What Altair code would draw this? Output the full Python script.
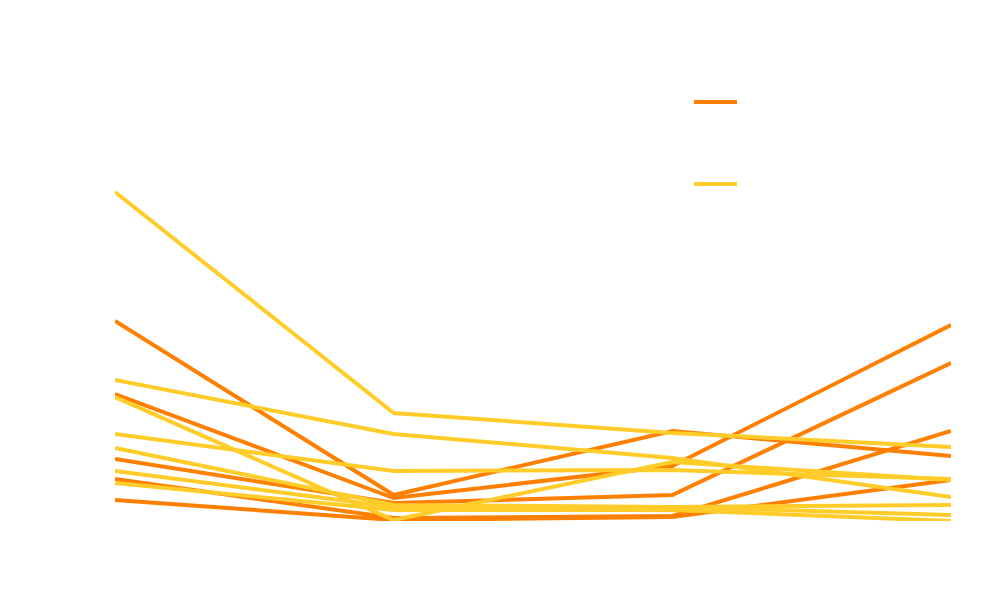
import altair as alt
import pandas as pd

periods = ["P1", "P2", "P3", "P4"]
groups = ["Group A", "Group B"]
colors = ["#ff8000", "#ffcc29"]

# Group A (orange) series values at P1..P4
a1 = [40.0, 5.2, 18.0, 13.0]
a2 = [25.4, 4.6, 11.0, 39.2]
a3 = [12.4, 3.6, 5.2, 31.6]
a4 = [8.4, 0.6, 1.0, 18.0]
a5 = [4.2, 0.2, 0.8, 8.2]

# Group B (yellow) series values at P1..P4
b1 = [65.8, 21.6, 17.6, 14.8]
b2 = [28.2, 17.4, 12.6, 4.8]
b3 = [24.8, 0.2, 11.8, 8.2]
b4 = [17.4, 10.0, 10.2, 8.4]
b5 = [14.6, 3.2, 2.8, 3.2]
b6 = [10.0, 2.8, 2.8, 1.2]
b7 = [7.6, 2.2, 2.2, 0.0]

series_a = {"A1": a1, "A2": a2, "A3": a3, "A4": a4, "A5": a5}
series_b = {"B1": b1, "B2": b2, "B3": b3, "B4": b4, "B5": b5, "B6": b6, "B7": b7}


def build(series, group):
    rows = []
    for name, vals in series.items():
        for i, (p, v) in enumerate(zip(periods, vals)):
            rows.append({"period": p, "idx": i, "value": v, "series": name, "group": group})
    return pd.DataFrame(rows)


df_a = build(series_a, groups[0])
df_b = build(series_b, groups[1])

x_enc = alt.X("period:N", sort=periods, scale=alt.Scale(type="point", padding=0),
              axis=alt.Axis(labelColor="white", titleColor="white", domain=False,
                            ticks=False, grid=False, labelAngle=0, labelPadding=14),
              title="Period")
y_enc = alt.Y("value:Q", scale=alt.Scale(domain=[0, 100], nice=False, zero=True),
              axis=alt.Axis(labelColor="white", titleColor="white", domain=False,
                            ticks=False, grid=False, labelPadding=12), title="Value")
color_enc = alt.Color("group:N", scale=alt.Scale(domain=groups, range=colors),
                      legend=alt.Legend(orient="none", legendX=577, legendY=57.5,
                                        title=None, symbolType="stroke",
                                        symbolSize=1849, symbolStrokeWidth=4,
                                        rowPadding=50, padding=0,
                                        labelColor="white", labelFontSize=14))

line_a = alt.Chart(df_a).mark_line(strokeWidth=4, clip=True).encode(
    x=x_enc, y=y_enc, color=color_enc, detail="series:N", order="idx:Q")
line_b = alt.Chart(df_b).mark_line(strokeWidth=4, clip=True).encode(
    x=x_enc, y=y_enc, color=color_enc, detail="series:N", order="idx:Q")

chart = alt.layer(line_a, line_b).properties(
    width=836, height=500,
    autosize=alt.AutoSizeParams(type="none"),
    padding={"left": 107, "top": 13, "right": 47, "bottom": 63},
    background="white",
).configure_view(stroke=None)

chart.save("out.html", embed_options={"renderer": "svg", "actions": False})
